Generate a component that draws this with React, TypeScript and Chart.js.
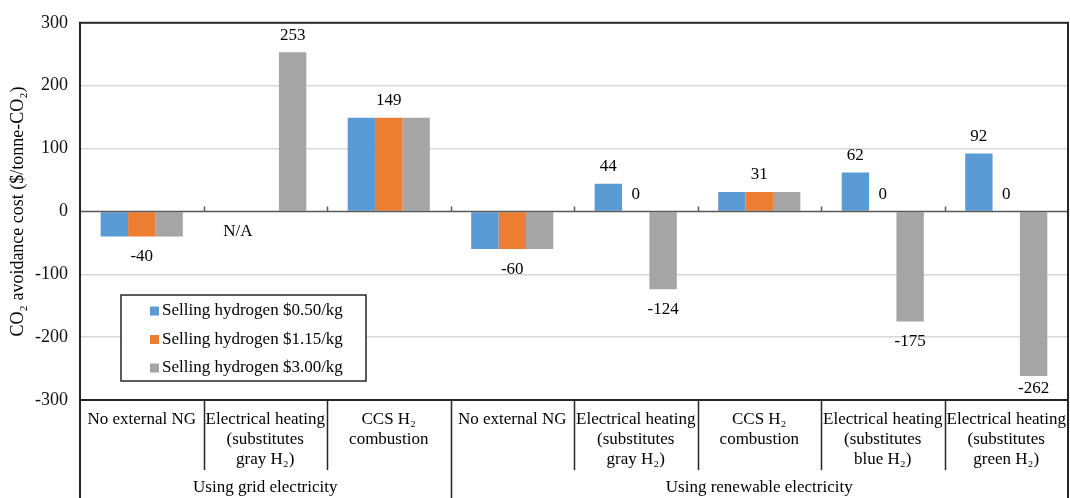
import React, { useEffect, useRef } from 'react';
import { Chart, registerables } from 'chart.js';

Chart.register(...registerables);

const FONT = "'Liberation Serif', 'Times New Roman', Times, serif";

const categories: string[][] = [
  ['No external NG'],
  ['Electrical heating', '(substitutes', 'gray H₂)'],
  ['CCS H₂', 'combustion'],
  ['No external NG'],
  ['Electrical heating', '(substitutes', 'gray H₂)'],
  ['CCS H₂', 'combustion'],
  ['Electrical heating', '(substitutes', 'blue H₂)'],
  ['Electrical heating', '(substitutes', 'green H₂)'],
];
const groupLabels = ['Using grid electricity', 'Using renewable electricity'];
const groupSpans = [3, 5];

const seriesNames = ['Selling hydrogen $0.50/kg', 'Selling hydrogen $1.15/kg', 'Selling hydrogen $3.00/kg'];
const seriesColors = ['#5B9BD5', '#ED7D31', '#A5A5A5'];

const blueValues = [-40, null, 149, -60, 44, 31, 62, 92];
const orangeValues = [-40, null, 149, -60, 0, 31, 0, 0];
const grayValues = [-40, 253, 149, -60, -124, 31, -175, -262];

const blueLabels = [null, 'N/A', null, null, '44', null, '62', '92'];
const orangeLabels = ['-40', null, '149', '-60', '0', '31', '0', '0'];
const grayLabels = [null, '253', null, null, '-124', null, '-175', '-262'];

const yMin = -300;
const yMax = 300;
const yStep = 100;
const yTitle = 'CO₂ avoidance cost ($/tonne-CO₂)';

const allValues = [blueValues, orangeValues, grayValues];
const allLabels = [blueLabels, orangeLabels, grayLabels];

const decorPlugin = {
  id: 'decor',
  afterDatasetsDraw(chart: any) {
    const { ctx, chartArea, scales } = chart;
    const { left, right, bottom } = chartArea;
    const x = scales.x;
    const y = scales.y;
    const zero = y.getPixelForValue(0);
    const catW = x.getPixelForValue(1) - x.getPixelForValue(0);
    const boundary = (k: number) => x.getPixelForValue(0) - catW / 2 + k * catW;

    ctx.save();
    ctx.strokeStyle = '#595959';
    ctx.lineWidth = 1.5;
    ctx.beginPath();
    ctx.moveTo(left, zero);
    ctx.lineTo(right, zero);
    for (let k = 1; k < categories.length; k++) {
      const bx = Math.round(boundary(k)) + 0.5;
      ctx.moveTo(bx, zero);
      ctx.lineTo(bx, zero - 5);
    }
    ctx.stroke();

    ctx.fillStyle = '#000';
    ctx.font = `17px ${FONT}`;
    ctx.textAlign = 'center';
    ctx.textBaseline = 'middle';
    for (let i = 0; i < 3; i++) {
      const meta = chart.getDatasetMeta(i);
      const barW = (catW * 0.665) / 3;
      for (let j = 0; j < categories.length; j++) {
        const txt = allLabels[i][j];
        if (!txt) continue;
        const v = allValues[i][j];
        let bx = meta.data[j] ? meta.data[j].x : NaN;
        if (!isFinite(bx)) bx = x.getPixelForValue(j) + (i - 1) * barW;
        let ly: number;
        if (v === null) ly = zero + 20;
        else if (v >= 0) ly = y.getPixelForValue(v) - 17;
        else ly = Math.min(y.getPixelForValue(v) + 20, bottom - 11);
        ctx.fillText(txt, bx, ly);
      }
    }
    ctx.restore();
  },
  afterDraw(chart: any) {
    const { ctx, chartArea, scales } = chart;
    const { left, right, top, bottom } = chartArea;
    const x = scales.x;
    const H = chart.height;
    const catW = x.getPixelForValue(1) - x.getPixelForValue(0);
    const boundary = (k: number) => x.getPixelForValue(0) - catW / 2 + k * catW;

    ctx.save();
    ctx.strokeStyle = '#262626';
    ctx.lineWidth = 2;
    ctx.strokeRect(left, top, right - left, bottom - top);
    ctx.beginPath();
    ctx.moveTo(left, bottom);
    ctx.lineTo(left, H);
    ctx.moveTo(right, bottom);
    ctx.lineTo(right, H);
    ctx.stroke();

    ctx.lineWidth = 1.5;
    const groupEnds: number[] = [];
    let acc = 0;
    for (const s of groupSpans) {
      acc += s;
      groupEnds.push(acc);
    }
    ctx.beginPath();
    for (let k = 1; k < categories.length; k++) {
      const bx = Math.round(boundary(k)) + 0.5;
      ctx.moveTo(bx, bottom);
      ctx.lineTo(bx, groupEnds.includes(k) ? H : bottom + 70);
    }
    ctx.stroke();

    ctx.fillStyle = '#000';
    ctx.font = `17px ${FONT}`;
    ctx.textAlign = 'center';
    ctx.textBaseline = 'middle';
    categories.forEach((lines, j) => {
      const cx = x.getPixelForValue(j);
      lines.forEach((ln, li) => ctx.fillText(ln, cx, bottom + 20 + li * 20));
    });
    let start = 0;
    groupLabels.forEach((g, gi) => {
      const end = start + groupSpans[gi];
      const cx = (boundary(start) + boundary(end)) / 2;
      ctx.fillText(g, cx, bottom + 88);
      start = end;
    });

    ctx.save();
    ctx.font = `18px ${FONT}`;
    ctx.translate(18, (top + bottom) / 2);
    ctx.rotate(-Math.PI / 2);
    ctx.fillText(yTitle, 0, 0);
    ctx.restore();

    const lx = left + 41;
    const ly = chart.scales.y.getPixelForValue(-133);
    const lw = 245;
    const lh = 86;
    ctx.fillStyle = '#fff';
    ctx.fillRect(lx, ly, lw, lh);
    ctx.strokeStyle = '#262626';
    ctx.lineWidth = 1.5;
    ctx.strokeRect(lx, ly, lw, lh);
    ctx.textAlign = 'left';
    ctx.font = `17px ${FONT}`;
    seriesNames.forEach((n, i) => {
      const cy = ly + 16 + i * 28.5;
      ctx.fillStyle = seriesColors[i];
      ctx.fillRect(lx + 29, cy - 4.5, 9, 9);
      ctx.fillStyle = '#000';
      ctx.fillText(n, lx + 41, cy);
    });
    ctx.restore();
  },
};

export default function App() {
  const ref = useRef<HTMLCanvasElement>(null);
  useEffect(() => {
    document.body.style.margin = '0';
    const chart = new Chart(ref.current!, {
      type: 'bar',
      data: {
        labels: categories.map((c) => c.join(' ')),
        datasets: allValues.map((vals, i) => ({
          label: seriesNames[i],
          data: vals,
          backgroundColor: seriesColors[i],
          borderWidth: 0,
          barPercentage: 1,
          categoryPercentage: 0.665,
        })),
      },
      options: {
        animation: false,
        responsive: false,
        layout: { padding: { left: 0, top: 20, right: 2, bottom: 98 } },
        plugins: { legend: { display: false }, tooltip: { enabled: false } },
        scales: {
          x: { display: false },
          y: {
            min: yMin,
            max: yMax,
            afterFit: (s: any) => {
              s.width = 80;
            },
            ticks: {
              stepSize: yStep,
              color: '#111',
              padding: 12,
              font: { family: FONT, size: 18 },
            },
            border: { display: false },
            grid: {
              drawTicks: false,
              color: (c: any) =>
                c.tick && (c.tick.value === 0 || Math.abs(c.tick.value) === 300) ? 'rgba(0,0,0,0)' : '#d9d9d9',
              lineWidth: 1.5,
            },
          },
        },
      },
      plugins: [decorPlugin],
    });
    return () => chart.destroy();
  }, []);
  return (
    <div style={{ width: 1070, height: 498, position: 'relative' }}>
      <canvas ref={ref} width={1070} height={498} style={{ display: 'block' }} />
    </div>
  );
}
